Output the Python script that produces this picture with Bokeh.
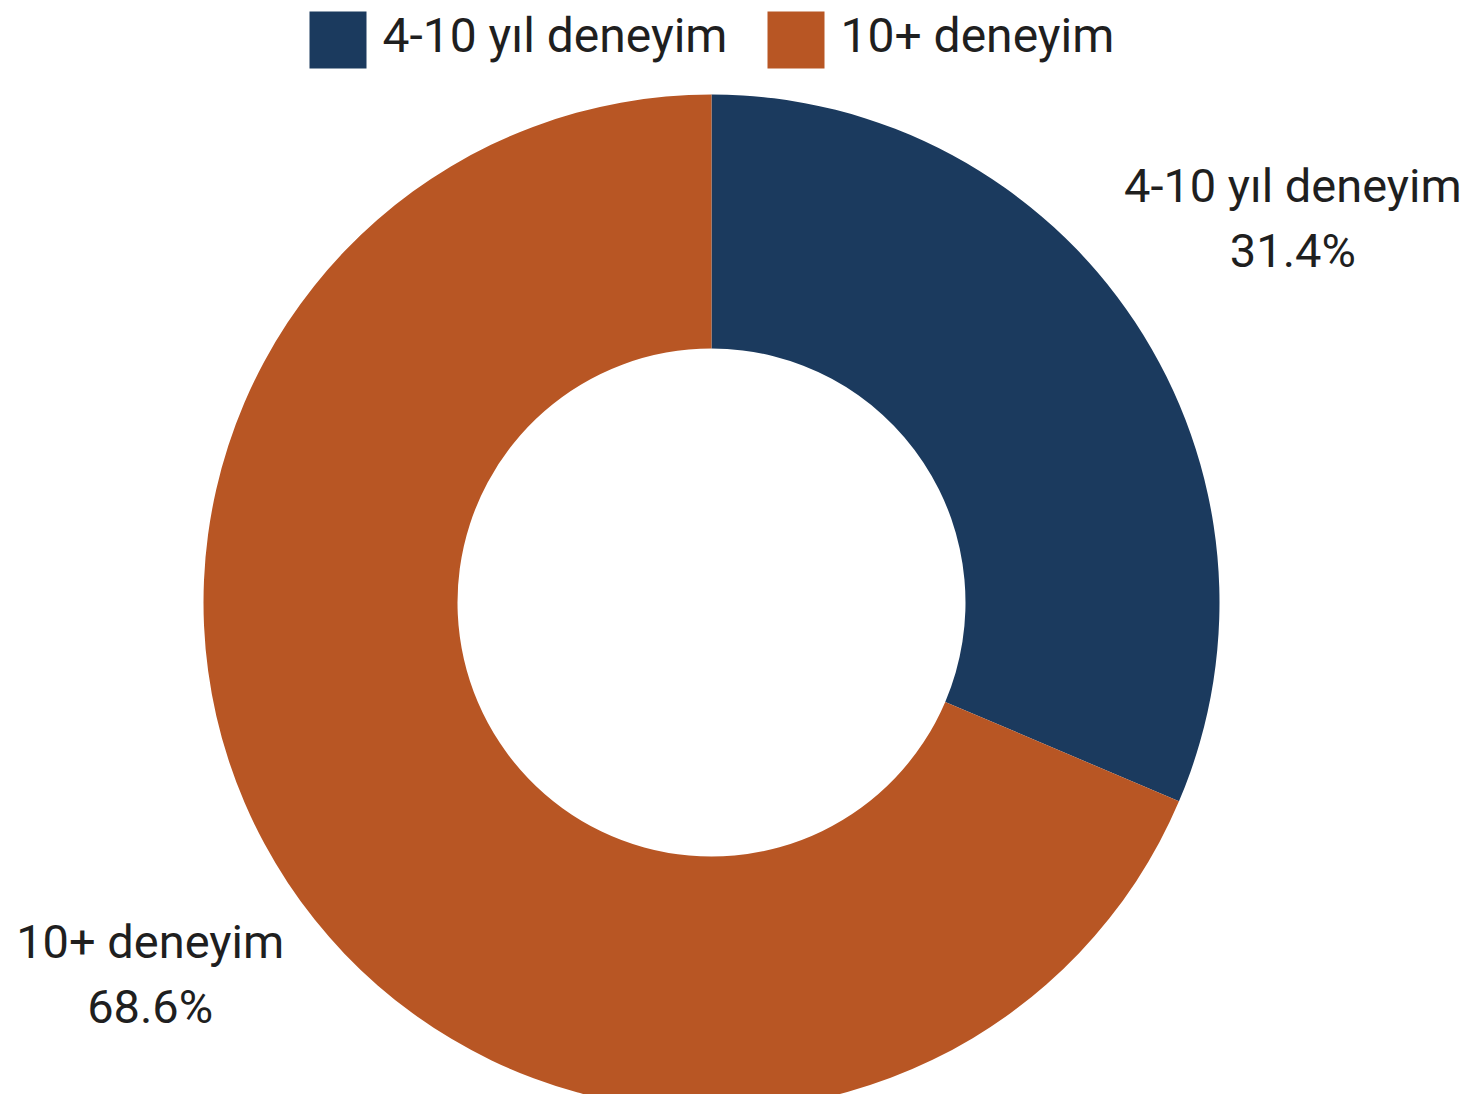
import math
from bokeh.plotting import figure
from bokeh.models import Range1d, ColumnDataSource
from bokeh.core.properties import value
from bokeh.embed import file_html
from bokeh.resources import INLINE

# ---- data ----
categories = ["4-10 yıl deneyim", "10+ deneyim"]
shares = [31.4, 68.6]
colors = ["#1B3A5E", "#B85624"]

# ---- layout (pixels; y measured from picture top) ----
W, H = 1467, 1094
CX, CY = 711, 602
R_OUT, R_IN = 508, 254
LABEL_R = [697, 673]
LINE_GAP = 65
FONT = "Roboto"
FS = "48px"
LABEL_FS = "47px"
TEXT_COLOR = "#1f1f1f"

def Y(sy):  # picture y (top-down) -> data y (bottom-up)
    return 1110 - sy

p = figure(width=W, height=H, output_backend="svg", toolbar_location=None,
           x_range=Range1d(0, W), y_range=Range1d(1110 - H, 1110),
           min_border=0, background_fill_color="white", border_fill_color="white")
p.axis.visible = False
p.grid.visible = False
p.outline_line_color = None

# wedges: start at 12 o'clock, clockwise
total = sum(shares)
starts, ends, mids = [], [], []
acc = 0.0
for s in shares:
    a0 = math.pi / 2 - 2 * math.pi * acc / total
    a1 = math.pi / 2 - 2 * math.pi * (acc + s) / total
    starts.append(a0)
    ends.append(a1)
    mids.append((a0 + a1) / 2)
    acc += s

src = ColumnDataSource(dict(start=starts, end=ends, color=colors, cat=categories))
p.annular_wedge(x=CX, y=Y(CY), inner_radius=R_IN, outer_radius=R_OUT,
                start_angle="start", end_angle="end", direction="clock",
                fill_color="color", line_color=None, source=src)

# slice labels
lx = [CX + r * math.cos(m) for r, m in zip(LABEL_R, mids)]
ly = [Y(CY) + r * math.sin(m) for r, m in zip(LABEL_R, mids)]
pct = [f"{s:.1f}%" for s in shares]
p.text(x=lx, y=[v + LINE_GAP / 2 for v in ly], text=categories, text_align="center",
       text_baseline="middle", text_font=value(FONT), text_font_size=LABEL_FS,
       text_color=TEXT_COLOR)
p.text(x=lx, y=[v - LINE_GAP / 2 for v in ly], text=pct, text_align="center",
       text_baseline="middle", text_font=value(FONT), text_font_size=LABEL_FS,
       text_color=TEXT_COLOR)

# legend (top, horizontal)
leg_x = [309, 767]
SQ = 57
leg_top = 11
p.rect(x=[x + SQ / 2 for x in leg_x], y=[Y(leg_top + SQ / 2)] * 2, width=SQ, height=SQ,
       fill_color=colors, line_color=None)
p.text(x=[x + SQ + 16 for x in leg_x], y=[Y(leg_top + SQ / 2 - 5)] * 2, text=categories,
       text_align="left", text_baseline="middle", text_font=value(FONT),
       text_font_size=FS, text_color=TEXT_COLOR)

open("out.html", "w").write(file_html(p, INLINE))
